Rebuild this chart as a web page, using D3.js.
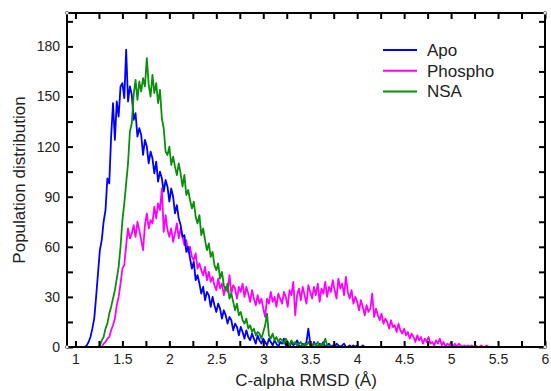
<!DOCTYPE html>
<html><head><meta charset="utf-8">
<script src="https://cdn.jsdelivr.net/npm/d3@7"></script>
<style>
html,body{margin:0;padding:0;background:#fff;}
svg{display:block;}
text{font-family:"Liberation Sans",Arial,Helvetica,sans-serif;fill:#222;}
</style></head>
<body>
<svg id="chart" width="551" height="391"></svg>
<script>
// ---- data ----
const binWidth = 0.02;
const seriesNames = ["Apo", "Phospho", "NSA"];
const seriesColors = ["#0000ff", "#ff00ff", "#0a8f0a"];
const apoStart = 1.10;
const apoValues = [0,1,3,6,11,17,30,44,58,64,75,82,101,98,126,146,124,147,138,156,158,149,178,147,156,151,136,140,126,131,127,115,124,120,110,117,113,104,111,99,105,101,93,100,96,87,95,90,80,85,77,73,66,67,57,60,53,47,51,40,43,38,32,36,28,33,31,24,30,25,21,26,23,17,22,19,14,18,16,10,14,12,7,12,9,5,10,6,4,8,5,2,7,4,2,5,3,1,5,3,1,4,2,0,3,2,5,1,2,0,3,1,2,4,1,0,2,1,3,11,2,0,3,1,0,2,1,3,0,1,2,0,1,0,2,1,0,1,2,0,0,1,0,1,0,1,0,0,1,0];
const phosphoStart = 1.28;
const phosphoValues = [0,2,3,5,6,10,13,17,25,30,38,47,49,61,71,65,68,73,66,75,70,64,58,73,80,71,76,74,84,77,86,82,95,69,79,70,66,71,63,68,74,65,71,66,61,64,57,60,54,52,56,47,50,46,43,48,40,45,39,42,37,34,41,35,38,31,36,33,43,32,37,35,29,36,33,38,30,36,32,27,34,29,25,31,26,29,23,18,29,26,33,27,30,24,32,29,26,33,30,24,34,31,39,19,31,35,28,36,31,26,37,33,29,36,31,38,27,35,32,39,30,36,33,40,34,29,41,35,38,31,42,33,29,34,26,30,27,22,28,24,19,25,21,23,32,18,23,19,16,20,14,17,15,11,16,12,13,9,14,10,8,11,7,9,5,8,6,3,7,4,6,2,5,3,6,2,3,1,4,2,5,1,3,0,2,1,3,0,2,0,2,1,0,1,0,1,0,1,0,1,0,0,1,0,0,1,0];
const nsaStart = 1.24;
const nsaValues = [0,1,4,6,11,14,20,24,29,34,41,48,60,76,86,98,110,129,134,151,160,148,159,153,161,156,173,157,150,163,152,158,146,154,137,131,117,115,120,109,114,108,103,110,104,96,103,91,94,88,83,87,78,74,79,67,71,64,58,62,54,57,49,46,50,41,45,37,34,38,29,32,27,22,26,19,21,16,14,17,11,13,9,11,7,9,8,5,9,13,20,7,5,8,4,6,3,5,4,2,5,3,1,4,2,3,1,2,3,0,2,1,3,1,0,2,1,3,0,2,1,5,1,0,1,0];
const xMajorTicks = [1,1.5,2,2.5,3,3.5,4,4.5,5,5.5,6];
const xMinorTicks = [1.25,1.75,2.25,2.75,3.25,3.75,4.25,4.75,5.25,5.75];
const yMajorTicks = [0,30,60,90,120,150,180];
const yMinorTicks = [15,45,75,105,135,165,195];
const xTitle = "C-alpha RMSD (Å)";
const yTitle = "Population distribution";

// ---- layout ----
const L = 67, R = 545, T = 13, B = 347;
const svg = d3.select("#chart");
const x = d3.scaleLinear().domain([0.91, 6]).range([L, R]);
const y = d3.scaleLinear().domain([0, 200]).range([B, T]);

const toPts = (start, vals) => vals.map((v, i) => [start + i * binWidth, v]);
const series = [
  {name: "Phospho", color: seriesColors[1], pts: toPts(phosphoStart, phosphoValues)},
  {name: "Apo", color: seriesColors[0], pts: toPts(apoStart, apoValues)},
  {name: "NSA", color: seriesColors[2], pts: toPts(nsaStart, nsaValues)}
];

const line = d3.line().x(d => x(d[0])).y(d => y(d[1]));
const plot = svg.append("g");
series.forEach(s => {
  plot.append("path").attr("d", line(s.pts)).attr("fill", "none")
    .attr("stroke", s.color).attr("stroke-width", 1.8).attr("stroke-linejoin", "round");
});

// axes
function styleAxis(g) {
  g.select(".domain").remove();
  g.selectAll(".tick line").attr("stroke", "#000").attr("stroke-width", 2);
  g.selectAll(".tick text").style("font-size", "14px").attr("fill", "#222");
}
const tk = 6;
svg.append("g").attr("transform", `translate(0,${B})`)
  .call(d3.axisBottom(x).tickValues(xMajorTicks).tickFormat(d3.format("")).tickSizeInner(-tk).tickSizeOuter(0).tickPadding(7))
  .call(styleAxis);
svg.append("g").attr("transform", `translate(0,${B})`)
  .call(d3.axisBottom(x).tickValues(xMinorTicks).tickFormat("").tickSizeInner(-tk).tickSizeOuter(0))
  .call(styleAxis);
svg.append("g").attr("transform", `translate(0,${T})`)
  .call(d3.axisTop(x).tickValues(xMajorTicks.concat(xMinorTicks)).tickFormat("").tickSizeInner(-tk).tickSizeOuter(0))
  .call(styleAxis);
svg.append("g").attr("transform", `translate(${L},0)`)
  .call(d3.axisLeft(y).tickValues(yMajorTicks).tickSizeInner(-tk).tickSizeOuter(0).tickPadding(7))
  .call(styleAxis);
svg.append("g").attr("transform", `translate(${L},0)`)
  .call(d3.axisLeft(y).tickValues(yMinorTicks).tickFormat("").tickSizeInner(-tk).tickSizeOuter(0))
  .call(styleAxis);
svg.append("g").attr("transform", `translate(${R},0)`)
  .call(d3.axisRight(y).tickValues(yMajorTicks.concat(yMinorTicks)).tickFormat("").tickSizeInner(-tk).tickSizeOuter(0))
  .call(styleAxis);
svg.selectAll(".tick text").attr("font-family", null);

// frame
svg.append("rect").attr("x", L).attr("y", T).attr("width", R - L).attr("height", B - T)
  .attr("fill", "none").attr("stroke", "#000").attr("stroke-width", 2);
[[L,T],[R,T],[L,B],[R,B]].forEach(p => svg.append("circle").attr("cx", p[0]).attr("cy", p[1]).attr("r", 1.6)
  .attr("fill", "#fff").attr("stroke", "#555").attr("stroke-width", 0.8));

// titles
svg.append("text").attr("x", (L + R) / 2).attr("y", 386).attr("text-anchor", "middle")
  .style("font-size", "17px").text(xTitle);
svg.append("text").attr("transform", `translate(25,${(T + B) / 2}) rotate(-90)`).attr("text-anchor", "middle")
  .style("font-size", "17px").text(yTitle);

// legend
const legend = svg.append("g");
const legendOrder = [0, 1, 2];
legendOrder.forEach((k, i) => {
  const ly = 50 + i * 20.7;
  legend.append("line").attr("x1", 383).attr("x2", 417).attr("y1", ly).attr("y2", ly)
    .attr("stroke", seriesColors[k]).attr("stroke-width", 2);
  legend.append("text").attr("x", 427).attr("y", ly).attr("dy", "0.35em")
    .style("font-size", "17px").text(seriesNames[k]);
});
</script>
</body></html>
